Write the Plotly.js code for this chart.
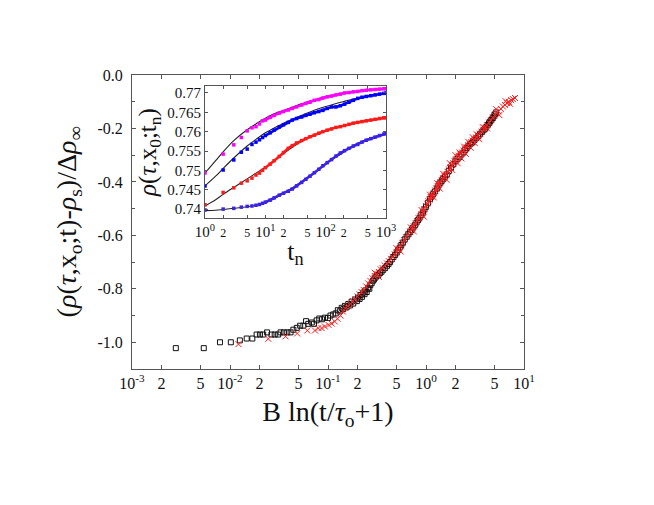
<!DOCTYPE html>
<html>
<head>
<meta charset="utf-8">
<script src="https://cdn.plot.ly/plotly-3.0.1.min.js"></script>
<style>
  html, body { margin: 0; padding: 0; background: #fff; }
  #chart { width: 654px; height: 505px; }
</style>
</head>
<body>
<div id="chart"></div>
<script>
// main panel: scaled relaxation vs B ln(t/tau_o+1)
var blackX = [0.0028,0.0054,0.0079,0.0102,0.0126,0.0148,0.0169,0.0187,0.0202,0.0218,0.0239,0.0265,0.0286,0.031,0.0328,0.0355,0.0384,0.0415,
  0.0443,0.048,0.052,0.0561,0.0597,0.063,0.0683,0.072,0.0766,0.0815,0.087,0.093,0.1,0.106,0.113,0.12,0.126,0.132,0.138,0.143,0.149,0.155,
  0.161,0.168,0.174,0.181,0.19,0.197,0.203,0.21,0.215,0.222,0.229,0.236,0.24,0.248,0.257,0.264,0.27,0.279,0.287,0.295,0.305,0.314,0.327,
  0.34,0.352,0.366,0.383,0.4,0.415,0.43,0.447,0.465,0.484,0.503,0.52,0.54,0.56,0.58,0.607,0.635,0.66,0.686,0.712,0.74,0.77,0.80,0.83,0.86,
  0.895,0.93,0.965,1.0,1.05,1.1,1.14,1.18,1.23,1.29,1.34,1.4,1.45,1.5,1.56,1.63,1.71,1.8,1.9,2.0,2.1,2.2,2.3,2.41,2.5,2.6,2.7,2.81,2.9,3.0,
  3.12,3.25,3.4,3.54,3.7,3.85,4.0,4.13,4.27,4.4,4.52,4.65,4.78,4.9,5.05,5.2];
var blackY = [-1.022,-1.022,-1.000,-1.000,-0.993,-0.986,-0.986,-0.971,-0.971,-0.971,-0.963,-0.971,-0.971,-0.971,-0.963,-0.963,-0.963,-0.963,
  -0.953,-0.946,-0.938,-0.938,-0.921,-0.931,-0.926,-0.931,-0.918,-0.911,-0.914,-0.908,-0.909,-0.900,-0.896,-0.892,-0.880,-0.884,-0.871,-0.876,-0.864,-0.869,
  -0.857,-0.862,-0.848,-0.855,-0.840,-0.846,-0.833,-0.838,-0.823,-0.830,-0.814,-0.820,-0.806,-0.812,-0.796,-0.800,-0.786,-0.779,-0.770,-0.765,-0.758,-0.752,-0.748,
  -0.741,-0.736,-0.729,-0.722,-0.714,-0.707,-0.700,-0.690,-0.681,-0.673,-0.664,-0.655,-0.646,-0.636,-0.627,-0.615,-0.605,-0.596,-0.588,-0.580,-0.571,-0.562,-0.552,-0.543,-0.534,
  -0.524,-0.515,-0.503,-0.493,-0.478,-0.464,-0.455,-0.446,-0.436,-0.425,-0.414,-0.403,-0.396,-0.389,-0.381,-0.372,-0.359,-0.347,-0.334,-0.323,-0.314,-0.306,-0.297,-0.290,-0.281,-0.273,-0.266,-0.259,-0.255,-0.250,
  -0.243,-0.236,-0.229,-0.222,-0.214,-0.207,-0.201,-0.194,-0.187,-0.180,-0.174,-0.168,-0.161,-0.155,-0.147,-0.140];

var redX = [0.0122,0.0246,0.0369,0.0485,0.0615,0.0736,0.0796,0.086,0.093,0.1013,0.109,0.117,0.125,0.134,0.142,0.15,0.16,0.17,0.18,0.19,0.2,
  0.21,0.22,0.232,0.245,0.258,0.27,0.285,0.3,0.315,0.33,0.345,0.36,0.38,0.4,0.42,0.44,0.46,0.48,0.5,0.525,0.55,0.575,0.6,0.63,0.66,0.69,0.72,
  0.75,0.78,0.81,0.84,0.87,0.9,0.93,0.96,1.0,1.03,1.06,1.09,1.12,1.16,1.2,1.24,1.28,1.32,1.36,1.4,1.45,1.5,1.55,1.6,1.66,1.72,1.78,1.84,1.9,
  1.96,2.03,2.1,2.17,2.25,2.33,2.42,2.5,2.6,2.7,2.8,2.9,3.0,3.12,3.25,3.4,3.55,3.7,3.85,4.0,4.2,4.4,4.6,4.8,5.0,5.25,5.5,5.8,6.1,6.4,6.7,7.0,
  7.4,7.7,8.1,
  1.5,1.62,1.75,1.85,2.0,2.1,2.2,2.3,2.45,2.55,2.7,2.85,3.0,3.15,3.3,3.5,3.8,4.2,0.9,0.95,1.1,1.2,1.3,1.38,0.7,0.75,0.5,0.55,0.3,0.33,5.2,5.6,6.5,7.2];
var redY = [-1.007,-0.987,-0.978,-0.967,-0.956,-0.956,-0.947,-0.947,-0.941,-0.935,-0.930,-0.922,-0.912,-0.900,-0.885,-0.872,-0.865,-0.856,-0.846,-0.838,-0.829,
  -0.821,-0.812,-0.805,-0.791,-0.780,-0.770,-0.761,-0.752,-0.745,-0.737,-0.727,-0.722,-0.713,-0.705,-0.697,-0.688,-0.680,-0.671,-0.662,-0.651,-0.640,-0.628,-0.618,-0.606,-0.594,-0.585,-0.575,
  -0.566,-0.556,-0.546,-0.537,-0.529,-0.521,-0.512,-0.502,-0.490,-0.482,-0.472,-0.466,-0.457,-0.448,-0.441,-0.432,-0.424,-0.417,-0.408,-0.400,-0.393,-0.385,-0.378,-0.372,-0.362,-0.354,-0.346,-0.337,-0.330,
  -0.322,-0.316,-0.308,-0.302,-0.297,-0.290,-0.283,-0.276,-0.270,-0.262,-0.257,-0.252,-0.246,-0.240,-0.234,-0.226,-0.219,-0.212,-0.205,-0.197,-0.188,-0.178,-0.169,-0.160,-0.151,-0.143,-0.136,-0.127,-0.118,-0.112,-0.105,-0.100,
  -0.094,-0.090,-0.086,
  -0.370,-0.392,-0.330,-0.355,-0.300,-0.330,-0.290,-0.312,-0.268,-0.295,-0.250,-0.272,-0.233,-0.255,-0.222,-0.240,-0.195,-0.200,-0.505,-0.530,-0.448,-0.458,-0.405,-0.425,-0.570,-0.585,-0.648,-0.660,-0.740,-0.755,-0.128,-0.150,-0.098,-0.108];

var mainXTicks = [0.001,0.002,0.005,0.01,0.02,0.05,0.1,0.2,0.5,1,2,5,10];
var mainXText = ['10<sup>-3</sup>','2','5','10<sup>-2</sup>','2','5','10<sup>-1</sup>','2','5','10<sup>0</sup>','2','5','10<sup>1</sup>'];
var mainYTicks = [-1.0,-0.8,-0.6,-0.4,-0.2,0.0];
var mainYText = ['-1.0','-0.8','-0.6','-0.4','-0.2','0.0'];

// inset: rho(tau,x0;tn) vs tn, sparse early points then dense tail
var tSparse = [1,2,3,4,5,6,7,8,9];
var tDense = [10,12,14,17,20,24,28,33,40,47,55,65,77,90,106,125,148,175,206,243,287,340,400,470,560,660,780,920,1000];
var magSparse = [0.7493,0.7542,0.7566,0.7585,0.7602,0.7610,0.7613,0.7620,0.7628];
var magDense = [0.7630,0.7637,0.7642,0.7648,0.7652,0.7656,0.7660,0.7664,0.7669,0.7673,0.7676,0.7681,0.7683,0.7687,0.7690,0.7692,0.7695,0.7697,0.7700,0.7701,0.7703,0.7704,0.7706,0.7707,0.7708,0.7709,0.7710,0.7711,0.7711];
var bluSparse = [0.7460,0.7501,0.7527,0.7547,0.7555,0.7567,0.7573,0.7579,0.7585];
var bluDense = [0.7590,0.7597,0.7604,0.7612,0.7618,0.7624,0.7630,0.7634,0.7638,0.7642,0.7645,0.7649,0.7652,0.7655,0.7660,0.7664,0.7664,0.7667,0.7671,0.7676,0.7681,0.7686,0.7689,0.7691,0.7693,0.7695,0.7697,0.7699,0.7700];
var redSparse = [0.7411,0.7443,0.7455,0.7467,0.7473,0.7480,0.7488,0.7493,0.7500];
var redDense = [0.7507,0.7516,0.7525,0.7536,0.7546,0.7557,0.7564,0.7571,0.7577,0.7582,0.7587,0.7591,0.7596,0.7600,0.7604,0.7607,0.7611,0.7613,0.7616,0.7619,0.7622,0.7624,0.7626,0.7628,0.7630,0.7632,0.7634,0.7636,0.7636];
var vioSparse = [0.7398,0.7400,0.7402,0.7405,0.7407,0.7408,0.7410,0.7412,0.7415];
var vioDense = [0.7418,0.7423,0.7429,0.7436,0.7441,0.7446,0.7452,0.7460,0.7469,0.7477,0.7485,0.7494,0.7503,0.7512,0.7520,0.7528,0.7537,0.7545,0.7551,0.7557,0.7563,0.7567,0.7573,0.7578,0.7582,0.7586,0.7590,0.7594,0.7595];

// fitted curves
var tFit = [1,1.5,2,3,5,7,10,15,20,30,50,70,100,200,300,500,1000];
var magFit = [0.7493,0.7525,0.7548,0.7577,0.7605,0.7620,0.7635,0.7648,0.7655,0.7665,0.7677,0.7684,0.7690,0.7699,0.7703,0.7707,0.7711];
var bluFit = [0.7460,0.7485,0.7505,0.7532,0.7563,0.7580,0.7597,0.7612,0.7622,0.7634,0.7648,0.7657,0.7665,0.7678,0.7685,0.7692,0.7699];
var redFit = [0.7408,0.7424,0.7438,0.7456,0.7478,0.7493,0.7508,0.7528,0.7543,0.7563,0.7583,0.7594,0.7603,0.7616,0.7624,0.7630,0.7636];
var vioFit = [0.7396,0.7397,0.7399,0.7402,0.7406,0.7410,0.7416,0.7429,0.7440,0.7458,0.7480,0.7498,0.7517,0.7547,0.7566,0.7581,0.7596];

var sm = function(s) { return '<span style="font-size:12px">' + s + '</span>'; };
var inXTicks = [1,2,5,10,20,50,100,200,500,1000];
var inXText = ['10<sup>0</sup>',sm('2'),sm('5'),'10<sup>1</sup>',sm('2'),sm('5'),'10<sup>2</sup>',sm('2'),sm('5'),'10<sup>3</sup>'];
var inYTicks = [0.74,0.745,0.75,0.755,0.76,0.765,0.77];
var inYText = ['0.74','0.745','0.75','0.755','0.76','0.765','0.77'];

var serif = 'Liberation Serif, Times New Roman, serif';
var colMag = '#ff00ff', colBlu = '#0000ff', colRed = '#ff1a1a', colVio = '#3a22e6';

function dots(x, y, c, lw) {
  return {x: x, y: y, xaxis: 'x2', yaxis: 'y2', type: 'scatter',
    mode: lw ? 'lines+markers' : 'markers',
    line: {color: c, width: lw || 0},
    marker: {color: c, size: 3.5, symbol: 'square'}, hoverinfo: 'skip'};
}
function fit(y) {
  return {x: tFit, y: y, xaxis: 'x2', yaxis: 'y2', type: 'scatter', mode: 'lines',
    line: {color: '#222', width: 1.1, shape: 'spline'}, hoverinfo: 'skip'};
}

var data = [
  {x: blackX, y: blackY, type: 'scatter', mode: 'markers',
   marker: {symbol: 'square-open', size: 5, color: '#111', line: {width: 1}}},
  {x: redX, y: redY, type: 'scatter', mode: 'markers',
   marker: {symbol: 'x-thin-open', size: 6, color: colRed, line: {width: 1, color: colRed}}},
  fit(magFit), fit(bluFit), fit(redFit), fit(vioFit),
  dots(tSparse, magSparse, colMag), dots(tDense, magDense, colMag, 2.5),
  dots(tSparse, bluSparse, colBlu), dots(tDense, bluDense, colBlu, 2.5),
  dots(tSparse, redSparse, colRed), dots(tDense, redDense, colRed, 2.5),
  dots(tSparse, vioSparse, colVio), dots(tDense, vioDense, colVio, 2.5)
];

var axisCommon = {
  showgrid: false, zeroline: false, showline: true, linecolor: '#555', linewidth: 1,
  mirror: 'ticks', ticks: 'inside', ticklen: 4, tickcolor: '#555',
  tickfont: {family: serif, size: 16, color: '#111'}
};

var layout = {
  width: 654, height: 505,
  margin: {l: 132, r: 130, t: 75, b: 136},
  paper_bgcolor: '#fff', plot_bgcolor: '#fff',
  showlegend: false,
  font: {family: serif, color: '#111'},
  xaxis: Object.assign({}, axisCommon, {
    type: 'log', range: [-3, 1],
    tickmode: 'array', tickvals: mainXTicks, ticktext: mainXText,
    title: {text: 'B ln(t/<i>τ</i><sub>o</sub>+1)', font: {family: serif, size: 28}, standoff: 10}
  }),
  yaxis: Object.assign({}, axisCommon, {
    range: [-1.1, 0],
    tickmode: 'array', tickvals: mainYTicks, ticktext: mainYText,
    ticklabelstandoff: 5,
    minor: {dtick: 0.1, ticks: 'inside', ticklen: 3, tickcolor: '#555'},
    title: {text: '(<i>ρ</i>(<i>τ</i>,x<sub>o</sub>;t)-<i>ρ</i><sub>s</sub>)/Δ<i>ρ</i><sub>∞</sub>', font: {family: serif, size: 28}, standoff: 12}
  }),
  xaxis2: Object.assign({}, axisCommon, {
    type: 'log', range: [0, 3], domain: [0.1862, 0.648], anchor: 'y2',
    tickmode: 'array', tickvals: inXTicks, ticktext: inXText,
    tickfont: {family: serif, size: 15, color: '#111'}, ticklen: 3,
    title: {text: 't<sub>n</sub>', font: {family: serif, size: 26}, standoff: 2}
  }),
  yaxis2: Object.assign({}, axisCommon, {
    range: [0.7377, 0.7718], domain: [0.5136, 0.9626], anchor: 'x2',
    tickmode: 'array', tickvals: inYTicks, ticktext: inYText,
    tickfont: {family: serif, size: 15, color: '#111'}, ticklen: 3,
    title: {text: '<i>ρ</i>(<i>τ</i>,x<sub>0</sub>;t<sub>n</sub>)', font: {family: serif, size: 25}, standoff: 3}
  })
};

Plotly.newPlot('chart', data, layout, {staticPlot: true});
</script>
</body>
</html>
